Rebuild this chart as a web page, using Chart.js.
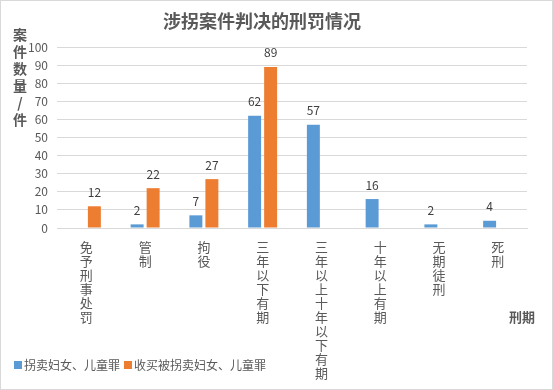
<!DOCTYPE html>
<html>
<head>
<meta charset="utf-8">
<script src="https://cdn.jsdelivr.net/npm/chart.js@4/dist/chart.umd.min.js"></script>
<style>
  html, body { margin: 0; padding: 0; background: #fff; }
  #wrap { position: relative; width: 553px; height: 390px; }
</style>
</head>
<body>
<div id="wrap"><canvas id="chart" width="553" height="390"></canvas></div>
<script>
// Данные диаграммы
const categories = ['免予刑事处罚', '管制', '拘役', '三年以下有期', '三年以上十年以下有期', '十年以上有期', '无期徒刑', '死刑'];
const seriesNames = ['拐卖妇女、儿童罪', '收买被拐卖妇女、儿童罪'];
const traffickingValues = [null, 2, 7, 62, 57, 16, 2, 4];
const buyingValues = [12, 22, 27, 89, null, null, null, null];
const yTicks = [0, 10, 20, 30, 40, 50, 60, 70, 80, 90, 100];

const FONT = '"Noto Sans CJK SC", "Microsoft YaHei", sans-serif';
const TEXT = '#595959';

// Подписи, легенда, заголовки - рисуем сами
const extras = {
  id: 'extras',
  beforeDraw(chart) {
    const ctx = chart.ctx;
    ctx.save();
    ctx.fillStyle = '#fff';
    ctx.fillRect(0, 0, chart.width, chart.height);
    ctx.strokeStyle = '#d9d9d9';
    ctx.lineWidth = 1;
    ctx.strokeRect(0.5, 0.5, chart.width - 1, chart.height - 1);
    ctx.restore();
  },
  afterDatasetsDraw(chart) {
    const ctx = chart.ctx;
    ctx.save();

    // значения над столбцами
    ctx.font = '12px ' + FONT;
    ctx.fillStyle = '#404040';
    ctx.textAlign = 'center';
    ctx.textBaseline = 'middle';
    chart.data.datasets.forEach((ds, i) => {
      chart.getDatasetMeta(i).data.forEach((bar, j) => {
        const v = ds.data[j];
        if (v === null || v === undefined) return;
        ctx.fillText(String(v), bar.x, bar.y - 14);
      });
    });

    // заголовок
    ctx.fillStyle = TEXT;
    ctx.font = 'bold 18px ' + FONT;
    ctx.fillText('涉拐案件判决的刑罚情况', 262, 21);

    // подпись оси Y вертикально
    ctx.font = 'bold 14px ' + FONT;
    const yTitle = '案件数量/件';
    for (let k = 0; k < yTitle.length; k++) {
      ctx.fillText(yTitle[k], 20, 35 + k * 17);
    }

    // подпись оси X
    ctx.font = 'bold 13px ' + FONT;
    ctx.fillText('刑期', 522, 317);

    // легенда
    ctx.font = '12px ' + FONT;
    ctx.textAlign = 'left';
    let x = 14;
    chart.data.datasets.forEach(ds => {
      ctx.fillStyle = ds.backgroundColor;
      ctx.fillRect(x, 361, 8, 8);
      ctx.fillStyle = TEXT;
      ctx.fillText(ds.label, x + 10, 365);
      x += 10 + ctx.measureText(ds.label).width + 4;
    });

    ctx.restore();
  }
};

new Chart(document.getElementById('chart'), {
  type: 'bar',
  data: {
    labels: categories,
    datasets: [
      {
        label: seriesNames[0],
        data: traffickingValues,
        backgroundColor: '#5B9BD5',
        categoryPercentage: 0.545,
        barPercentage: 0.81
      },
      {
        label: seriesNames[1],
        data: buyingValues,
        backgroundColor: '#ED7D31',
        categoryPercentage: 0.545,
        barPercentage: 0.81
      }
    ]
  },
  options: {
    responsive: false,
    animation: false,
    layout: { padding: { top: 47, right: 26, bottom: 0, left: 0 } },
    plugins: {
      legend: { display: false },
      title: { display: false },
      tooltip: { enabled: false }
    },
    scales: {
      x: {
        grid: { display: false },
        border: { display: true, color: '#d9d9d9' },
        ticks: {
          padding: 4,
          maxRotation: 0,
          autoSkip: false,
          color: TEXT,
          font: { size: 13, family: FONT, lineHeight: 1.08 },
          callback: function (value, index) {
            return categories[index].split('');
          }
        },
        afterFit: function (scale) { scale.height = 162; }
      },
      y: {
        min: 0,
        max: 100,
        grid: { color: '#d9d9d9', drawTicks: false },
        border: { display: false },
        afterBuildTicks: function (scale) {
          scale.ticks = yTicks.map(v => ({ value: v }));
        },
        ticks: {
          padding: 9,
          color: TEXT,
          font: { size: 12, family: FONT }
        },
        afterFit: function (scale) { scale.width = 57; }
      }
    }
  },
  plugins: [extras]
});
</script>
</body>
</html>
